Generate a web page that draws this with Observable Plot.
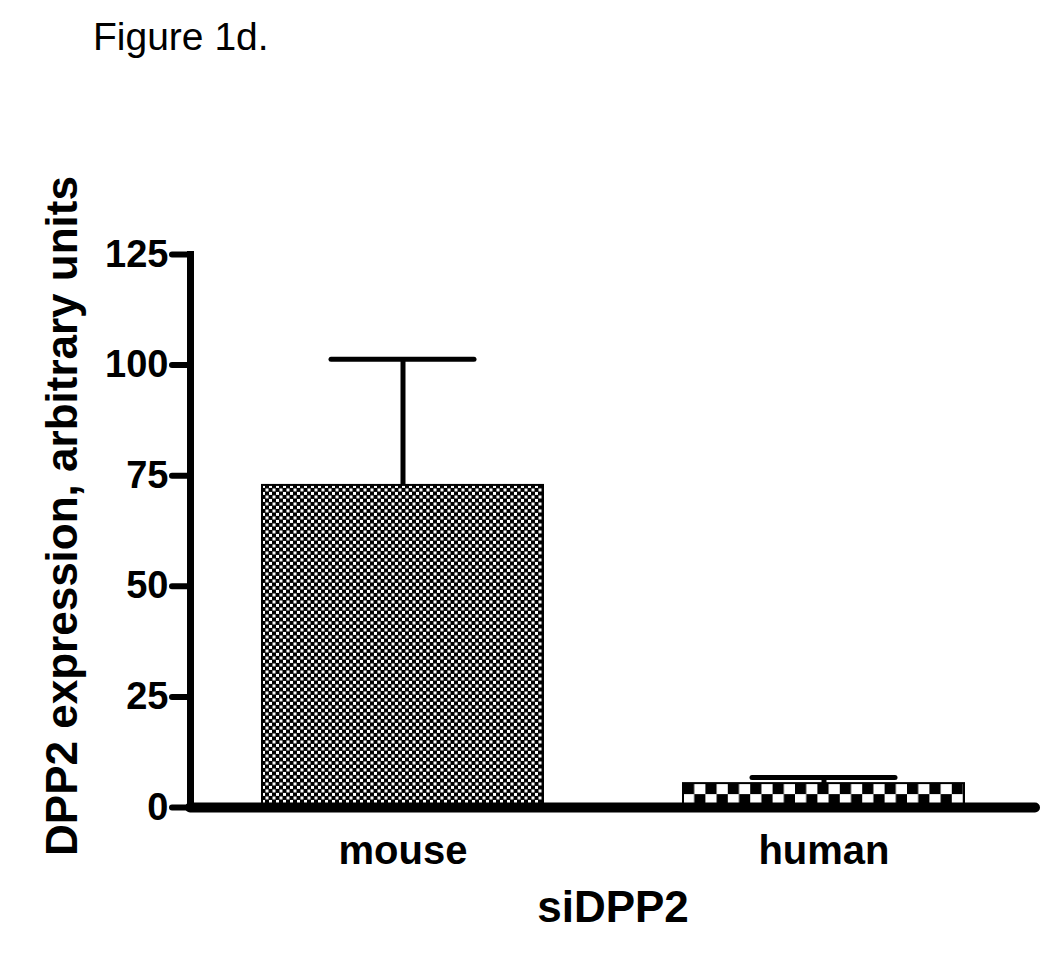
<!DOCTYPE html>
<html><head><meta charset="utf-8">
<script src="https://cdn.jsdelivr.net/npm/d3@7"></script>
<script src="https://cdn.jsdelivr.net/npm/@observablehq/plot@0.6"></script>
<style>
body{margin:0;background:#fff;font-family:"Liberation Sans",Arial,sans-serif;}
#title{height:60px;box-sizing:border-box;padding:17px 0 0 93px;font-size:39px;line-height:39px;color:#000;}
</style></head><body>
<div id="title">Figure 1d.</div>
<div id="chart"></div>
<script>
const groups = ["mouse", "human"];
const means = [72.8, 5.4];
const errors = [28.5, 1.4];
const yTicks = [0, 25, 50, 75, 100, 125];
const patternIds = ["checkFine", "checkCoarse"];
const xTitle = "siDPP2";
const yTitle = "DPP2 expression, arbitrary units";

const data = groups.map((g, i) => ({group: g, value: means[i], upper: means[i] + errors[i], pattern: patternIds[i]}));

const plot = Plot.plot({
  width: 1050, height: 897,
  marginTop: 194, marginBottom: 150, marginLeft: 190, marginRight: 15,
  style: {fontFamily: '"Liberation Sans", Arial, sans-serif', background: "white", color: "black"},
  x: {domain: groups, paddingInner: 0.333, paddingOuter: 0.17, axis: null},
  y: {domain: [0, 125], axis: null},
  marks: [
    ...data.map(d => Plot.barY([d], {x: "group", y: "value", fill: `url(#${d.pattern})`, stroke: "black", strokeWidth: 2})),
    Plot.ruleX(data, {x: "group", y1: "value", y2: "upper", strokeWidth: 5}),
    Plot.tickY(data, {x: "group", y: "upper", strokeWidth: 5, strokeLinecap: "round", insetLeft: 69, insetRight: 69}),
    Plot.axisY(yTicks, {tickSize: 18, tickPadding: 4, fontSize: 38, fontWeight: "bold", strokeWidth: 6, strokeLinecap: "round", label: null}),
    Plot.axisX({tickSize: 0, tickPadding: 28, fontSize: 40, fontWeight: "bold", label: null}),
    Plot.frame({anchor: "left", strokeWidth: 7}),
    Plot.ruleY([0], {strokeWidth: 10, strokeLinecap: "round"}),
    Plot.text([xTitle], {frameAnchor: "bottom", dy: 100, lineAnchor: "middle", fontSize: 44, fontWeight: "bold"}),
    Plot.text([yTitle], {frameAnchor: "left", textAnchor: "middle", rotate: -90, dx: -128, dy: -15, lineAnchor: "middle", fontSize: 44, fontWeight: "bold"})
  ]
});

// make sure the y-axis tick marks are heavy with round ends
d3.select(plot).selectAll('[aria-label="y-axis tick"]').attr("stroke-width", 6).attr("stroke-linecap", "round");

// patterns anchored at each bar's corner (from the scales)
const xs = plot.scale("x"), ys = plot.scale("y");
const defs = d3.select(plot).insert("defs", ":first-child");
const fine = defs.append("pattern").attr("id", "checkFine").attr("patternUnits", "userSpaceOnUse")
  .attr("width", 7).attr("height", 7)
  .attr("x", xs.apply("mouse")).attr("y", ys.apply(means[0]));
fine.append("rect").attr("width", 7).attr("height", 7).attr("fill", "black");
fine.append("rect").attr("x", 0).attr("y", 0).attr("width", 3).attr("height", 3).attr("fill", "white");
fine.append("rect").attr("x", 3.5).attr("y", 3.5).attr("width", 3).attr("height", 3).attr("fill", "white");

const coarse = defs.append("pattern").attr("id", "checkCoarse").attr("patternUnits", "userSpaceOnUse")
  .attr("width", 22.4).attr("height", 22)
  .attr("x", xs.apply("human")).attr("y", ys.apply(means[1]));
coarse.append("rect").attr("width", 22.4).attr("height", 22).attr("fill", "black");
coarse.append("rect").attr("x", 11.2).attr("y", 0).attr("width", 11.2).attr("height", 11).attr("fill", "white");
coarse.append("rect").attr("x", 0).attr("y", 11).attr("width", 11.2).attr("height", 11).attr("fill", "white");

document.getElementById("chart").appendChild(plot);
</script>
</body></html>
